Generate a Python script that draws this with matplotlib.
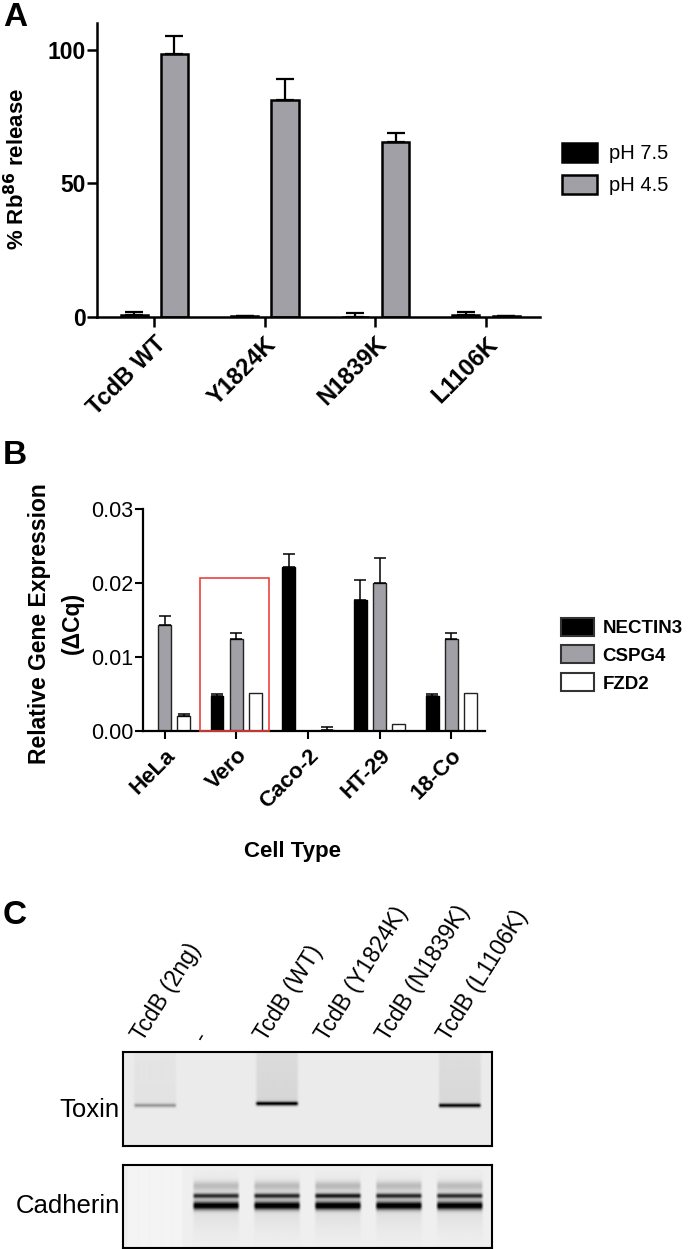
import numpy as np
import matplotlib
matplotlib.use("Agg")
import matplotlib.pyplot as plt
from matplotlib.patches import Patch, Rectangle
from matplotlib.transforms import blended_transform_factory

plt.rcParams['font.family'] = ['Liberation Sans', 'DejaVu Sans']

# ---- panel A data
mutants = ['TcdB WT', 'Y1824K', 'N1839K', 'L1106K']
ph75 = [0.8, 0.3, 0.1, 0.6]
ph75_err = [1.1, 0.2, 1.4, 1.3]
ph45 = [98.5, 81.3, 65.3, 0.3]
ph45_err = [6.7, 7.9, 3.4, 0.2]

# ---- panel B data
cells = ['HeLa', 'Vero', 'Caco-2', 'HT-29', '18-Co']
nectin3 = [0.0, 0.0047, 0.0222, 0.0177, 0.0047]
nectin3_err = [0.0, 0.0003, 0.0017, 0.0027, 0.0003]
cspg4 = [0.0143, 0.0125, 0.0, 0.0200, 0.0125]
cspg4_err = [0.0013, 0.0007, 0.0, 0.0034, 0.0007]
fzd2 = [0.0020, 0.0052, 0.0002, 0.0010, 0.0052]
fzd2_err = [0.0003, 0.0, 0.0003, 0.0, 0.0]

# ---- panel C data (relative band intensities per lane)
lanes = ['TcdB (2ng)', '-', 'TcdB (WT)', 'TcdB (Y1824K)', 'TcdB (N1839K)', 'TcdB (L1106K)']
toxin_band = [0.28, 0.0, 0.85, 0.0, 0.0, 0.80]
toxin_smear = [0.04, 0.0, 0.10, 0.0, 0.0, 0.09]
cad_upper = [0.0, 0.70, 0.72, 0.78, 0.72, 0.70]
cad_lower = [0.0, 0.95, 0.97, 1.00, 0.97, 0.95]

W, H = 693, 1249
fig = plt.figure(figsize=(W / 100, H / 100), dpi=100)


def add_ax(l, t, r, b):
    return fig.add_axes([l / W, 1 - b / H, (r - l) / W, (b - t) / H])


GRAY = '#a0a0a6'

# ================= Panel A
axA = add_ax(97, 23, 540, 317)
x = np.arange(len(mutants))
bw = 0.245
axA.bar(x - 0.18, ph75, bw, color='black', edgecolor='black', linewidth=1.8, zorder=2)
axA.bar(x + 0.185, ph45, bw, color=GRAY, edgecolor='black', linewidth=1.8, zorder=2)
axA.errorbar(x - 0.18, ph75, yerr=[np.zeros(4), ph75_err], fmt='none', ecolor='black',
             elinewidth=1.6, capsize=6.5, capthick=1.6, zorder=3)
axA.errorbar(x + 0.185, ph45, yerr=[np.zeros(4), ph45_err], fmt='none', ecolor='black',
             elinewidth=1.6, capsize=6.5, capthick=1.6, zorder=3)
axA.set_xlim(-0.515, 3.49)
axA.set_ylim(0, 110)
axA.set_yticks([0, 50, 100])
axA.set_xticks(x)
axA.set_xticklabels(mutants, rotation=45, ha='right', va='top', rotation_mode='anchor',
                    fontsize=17, fontweight='bold')
for lab in axA.get_yticklabels():
    lab.set_fontweight('bold')
    lab.set_fontsize(16.5)
axA.tick_params(axis='both', width=1.8, length=7, pad=1)
axA.tick_params(axis='x', pad=4)
for s in ['top', 'right']:
    axA.spines[s].set_visible(False)
for s in ['left', 'bottom']:
    axA.spines[s].set_linewidth(1.8)
fig.text(17 / W, 1 - 169 / H, '% Rb$^{\\mathbf{86}}$ release', rotation=90, ha='center',
         va='center', fontsize=16, fontweight='bold')
axA.legend([Patch(facecolor='black', edgecolor='black', linewidth=1.8),
            Patch(facecolor=GRAY, edgecolor='black', linewidth=1.8)],
           ['pH 7.5', 'pH 4.5'], frameon=False, fontsize=14.5,
           loc='center left', bbox_to_anchor=(562 / W, 1 - 169 / H),
           bbox_transform=fig.transFigure, handlelength=1.75, handleheight=1.1,
           handletextpad=0.6, labelspacing=0.55, borderaxespad=0, borderpad=0)

# ================= Panel B
axB = add_ax(143, 509, 485, 731)
xb = np.arange(len(cells))
bwb = 0.18
off = 0.268
axB.bar(xb - off, nectin3, bwb, color='black', edgecolor='black', linewidth=1.0, zorder=2)
axB.bar(xb, cspg4, bwb, color=GRAY, edgecolor='#222222', linewidth=1.0, zorder=2)
axB.bar(xb + off, fzd2, bwb, color='white', edgecolor='#222222', linewidth=1.0, zorder=2)
for xs, v, e in [(xb - off, nectin3, nectin3_err), (xb, cspg4, cspg4_err), (xb + off, fzd2, fzd2_err)]:
    v = np.array(v)
    e = np.array(e)
    m = e > 0
    axB.errorbar(xs[m], v[m], yerr=[np.zeros(m.sum()), e[m]], fmt='none', ecolor='black',
                 elinewidth=1.1, capsize=4, capthick=1.1, zorder=3)
axB.set_xlim(-0.30, 4.47)
axB.set_ylim(0, 0.03)
axB.set_yticks([0, 0.01, 0.02, 0.03])
axB.set_yticklabels(['0.00', '0.01', '0.02', '0.03'], fontsize=15.5)
axB.set_xticks(xb)
axB.set_xticklabels(cells, rotation=45, ha='right', va='top', rotation_mode='anchor',
                    fontsize=16, fontweight='bold')
axB.tick_params(axis='both', width=1.5, length=6, pad=1)
axB.tick_params(axis='x', pad=4)
for s in ['top', 'right']:
    axB.spines[s].set_visible(False)
for s in ['left', 'bottom']:
    axB.spines[s].set_linewidth(1.6)
axB.add_patch(Rectangle((0.5, 0), 0.96, 0.0207, fill=False, edgecolor='#e8433f',
                        linewidth=1.2, zorder=4, clip_on=False))
fig.text(40 / W, 1 - 624 / H, 'Relative Gene Expression', rotation=90, ha='center', va='center',
         fontsize=16.5, fontweight='bold')
fig.text(72 / W, 1 - 623 / H, '(ΔCq)', rotation=90, ha='center', va='center',
         fontsize=16.5, fontweight='bold')
fig.text(293 / W, 1 - 852 / H, 'Cell Type', ha='center', va='center',
         fontsize=16, fontweight='bold')
axB.legend([Patch(facecolor='black', edgecolor='#333333', linewidth=1.5),
            Patch(facecolor=GRAY, edgecolor='#333333', linewidth=1.5),
            Patch(facecolor='white', edgecolor='#333333', linewidth=1.5)],
           ['NECTIN3', 'CSPG4', 'FZD2'], frameon=False,
           prop={'size': 13.5, 'weight': 'bold'},
           loc='center left', bbox_to_anchor=(561 / W, 1 - 655 / H),
           bbox_transform=fig.transFigure, handlelength=1.75, handleheight=1.1,
           handletextpad=0.45, labelspacing=0.45, borderaxespad=0, borderpad=0)

# ================= Panel C (blot)
xl = (-0.52, 5.52)


def lane_mask(xc, c, half=0.36, soft=0.05):
    return np.clip((half - np.abs(xc - c)) / soft + 0.5, 0, 1)


axT = add_ax(123, 1052, 492, 1146)
nx, ny = 370, 94
xc = np.linspace(xl[0], xl[1], nx)
yc = np.linspace(0, 1, ny)[:, None]
img = np.full((ny, nx), 0.08)
for i in range(len(lanes)):
    mk = lane_mask(xc, i, half=0.34)[None, :]
    yb = 0.57 if i != 2 else 0.55
    band = toxin_band[i] * np.exp(-0.5 * ((yc - yb) / 0.016) ** 2)
    smear = toxin_smear[i] * (yc < yb) * (0.6 + 0.4 * yc)
    img += mk * (band + smear)
axT.imshow(np.clip(img, 0, 1), cmap='gray_r', vmin=0, vmax=1, aspect='auto',
           extent=(xl[0], xl[1], 1, 0), interpolation='bilinear')
axT.set_xlim(*xl)
axT.set_ylim(1, 0)

axC = add_ax(123, 1165, 492, 1248)
ny2 = 83
yc2 = np.linspace(0, 1, ny2)[:, None]
img2 = np.full((ny2, nx), 0.065)
img2 -= lane_mask(xc, 0, half=0.45)[None, :] * 0.02
for i in range(len(lanes)):
    mk = lane_mask(xc, i, half=0.37)[None, :]
    up = cad_upper[i] * np.exp(-0.5 * ((yc2 - 0.37) / 0.022) ** 2)
    lo = cad_lower[i] * np.exp(-0.5 * ((yc2 - 0.49) / 0.035) ** 2)
    faint = 0.18 * cad_lower[i] * np.exp(-0.5 * ((yc2 - 0.25) / 0.04) ** 2)
    haze = 0.06 * cad_lower[i] * np.exp(-0.5 * ((yc2 - 0.5) / 0.2) ** 2)
    img2 += mk * (up + lo + faint + haze)
axC.imshow(np.clip(img2, 0, 1), cmap='gray_r', vmin=0, vmax=1, aspect='auto',
           extent=(xl[0], xl[1], 1, 0), interpolation='bilinear')
axC.set_xlim(*xl)
axC.set_ylim(1, 0)

for a in (axT, axC):
    a.set_xticks([])
    a.set_yticks([])
    for s in a.spines.values():
        s.set_linewidth(1.5)

trT = blended_transform_factory(axT.transData, axT.transAxes)
for i, lab in enumerate(lanes):
    axT.text(i - 0.12, 1.07, lab, transform=trT, rotation=58, ha='left', va='bottom',
             rotation_mode='anchor', fontsize=16.5)
fig.text(120 / W, 1 - 1110 / H, 'Toxin', ha='right', va='center', fontsize=18.5)
fig.text(120 / W, 1 - 1206 / H, 'Cadherin', ha='right', va='center', fontsize=18.5)

# panel letters
fig.text(3 / W, 1 - 2 / H, 'A', ha='left', va='top', fontsize=24, fontweight='bold')
fig.text(3 / W, 1 - 440 / H, 'B', ha='left', va='top', fontsize=24, fontweight='bold')
fig.text(3 / W, 1 - 900 / H, 'C', ha='left', va='top', fontsize=24, fontweight='bold')

fig.savefig('out.png', dpi=100)
